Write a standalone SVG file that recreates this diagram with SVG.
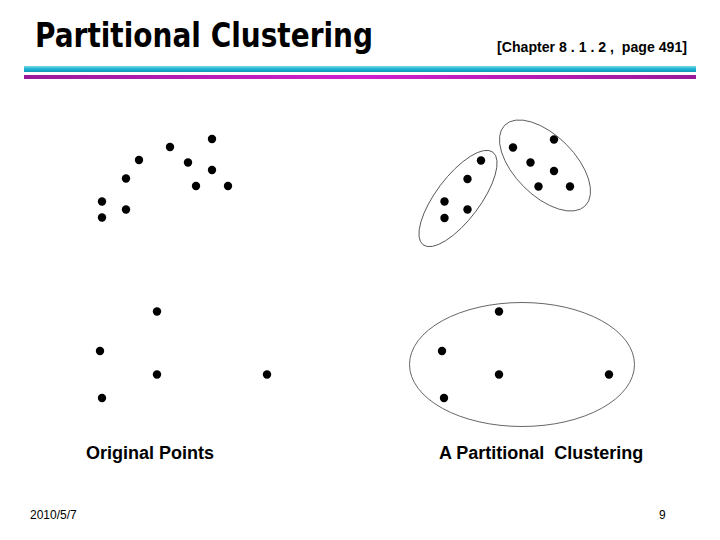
<svg xmlns="http://www.w3.org/2000/svg" width="720" height="540" viewBox="0 0 720 540">
<style>
.pt{fill:#000}
.cl{fill:none;stroke:#555;stroke-width:0.9}
.lbl{font-family:"Liberation Sans",Arial,sans-serif;font-weight:bold;font-size:18px;fill:#000}
.sm{font-family:"Liberation Sans",Arial,sans-serif;font-size:12px;fill:#000}
</style>
<defs>
<linearGradient id="gc" x1="0" y1="0" x2="0" y2="1">
<stop offset="0" stop-color="#7fd8ea"/><stop offset="0.5" stop-color="#19b3d3"/><stop offset="1" stop-color="#1497b5"/>
</linearGradient>
<linearGradient id="gp" x1="0" y1="0" x2="1" y2="0">
<stop offset="0" stop-color="#9a1a9a"/><stop offset="0.5" stop-color="#d020d0"/><stop offset="1" stop-color="#9a1a9a"/>
</linearGradient>
</defs>
<rect width="720" height="540" fill="#fff"/>
<text x="35" y="47" font-family="'DejaVu Sans',Verdana,sans-serif" font-weight="bold" font-size="33" textLength="338" lengthAdjust="spacingAndGlyphs">Partitional Clustering</text>
<text x="497" y="52" font-family="'Liberation Sans',Arial,sans-serif" font-weight="bold" font-size="14" textLength="190" lengthAdjust="spacingAndGlyphs" xml:space="preserve">[Chapter 8 . 1 . 2 ,  page 491]</text>
<rect x="24" y="66" width="672" height="6" fill="url(#gc)"/>
<rect x="24" y="75" width="672" height="4" fill="url(#gp)"/>
<g id="original">
<circle class="pt" cx="212" cy="139" r="4.2"/>
<circle class="pt" cx="170" cy="147" r="4.2"/>
<circle class="pt" cx="139" cy="160" r="4.2"/>
<circle class="pt" cx="188" cy="162.5" r="4.2"/>
<circle class="pt" cx="212" cy="170" r="4.2"/>
<circle class="pt" cx="126" cy="178.5" r="4.2"/>
<circle class="pt" cx="196" cy="186" r="4.2"/>
<circle class="pt" cx="228" cy="186" r="4.2"/>
<circle class="pt" cx="102" cy="201.5" r="4.2"/>
<circle class="pt" cx="126" cy="209.5" r="4.2"/>
<circle class="pt" cx="102" cy="217.5" r="4.2"/>
<circle class="pt" cx="157" cy="311.5" r="4.2"/>
<circle class="pt" cx="100" cy="351" r="4.2"/>
<circle class="pt" cx="157" cy="374.5" r="4.2"/>
<circle class="pt" cx="267" cy="374.5" r="4.2"/>
<circle class="pt" cx="102" cy="398" r="4.2"/>
</g>
<g id="clustered">
<circle class="pt" cx="554" cy="139.5" r="4.2"/>
<circle class="pt" cx="513" cy="147.5" r="4.2"/>
<circle class="pt" cx="481" cy="160.5" r="4.2"/>
<circle class="pt" cx="530.5" cy="162.5" r="4.2"/>
<circle class="pt" cx="554" cy="171" r="4.2"/>
<circle class="pt" cx="467.5" cy="179" r="4.2"/>
<circle class="pt" cx="538.5" cy="186.5" r="4.2"/>
<circle class="pt" cx="570" cy="186.5" r="4.2"/>
<circle class="pt" cx="444.5" cy="201.5" r="4.2"/>
<circle class="pt" cx="467.5" cy="209.5" r="4.2"/>
<circle class="pt" cx="444.5" cy="218" r="4.2"/>
<circle class="pt" cx="499" cy="311.5" r="4.2"/>
<circle class="pt" cx="442" cy="351" r="4.2"/>
<circle class="pt" cx="499" cy="374.5" r="4.2"/>
<circle class="pt" cx="609" cy="374.5" r="4.2"/>
<circle class="pt" cx="444" cy="398" r="4.2"/>
<ellipse id="c1" class="cl" cx="458" cy="198.5" rx="58" ry="22" transform="rotate(-53 458 198.5)"/>
<ellipse id="c2" class="cl" cx="545" cy="165.5" rx="57" ry="30" transform="rotate(45 545 165.5)"/>
<ellipse id="c3" class="cl" cx="522" cy="364.5" rx="112.5" ry="62"/>
</g>
<text class="lbl" x="86" y="459">Original Points</text>
<text class="lbl" x="439" y="459" xml:space="preserve">A Partitional  Clustering</text>
<text class="sm" x="30" y="519">2010/5/7</text>
<text class="sm" x="659" y="519">9</text>
</svg>
